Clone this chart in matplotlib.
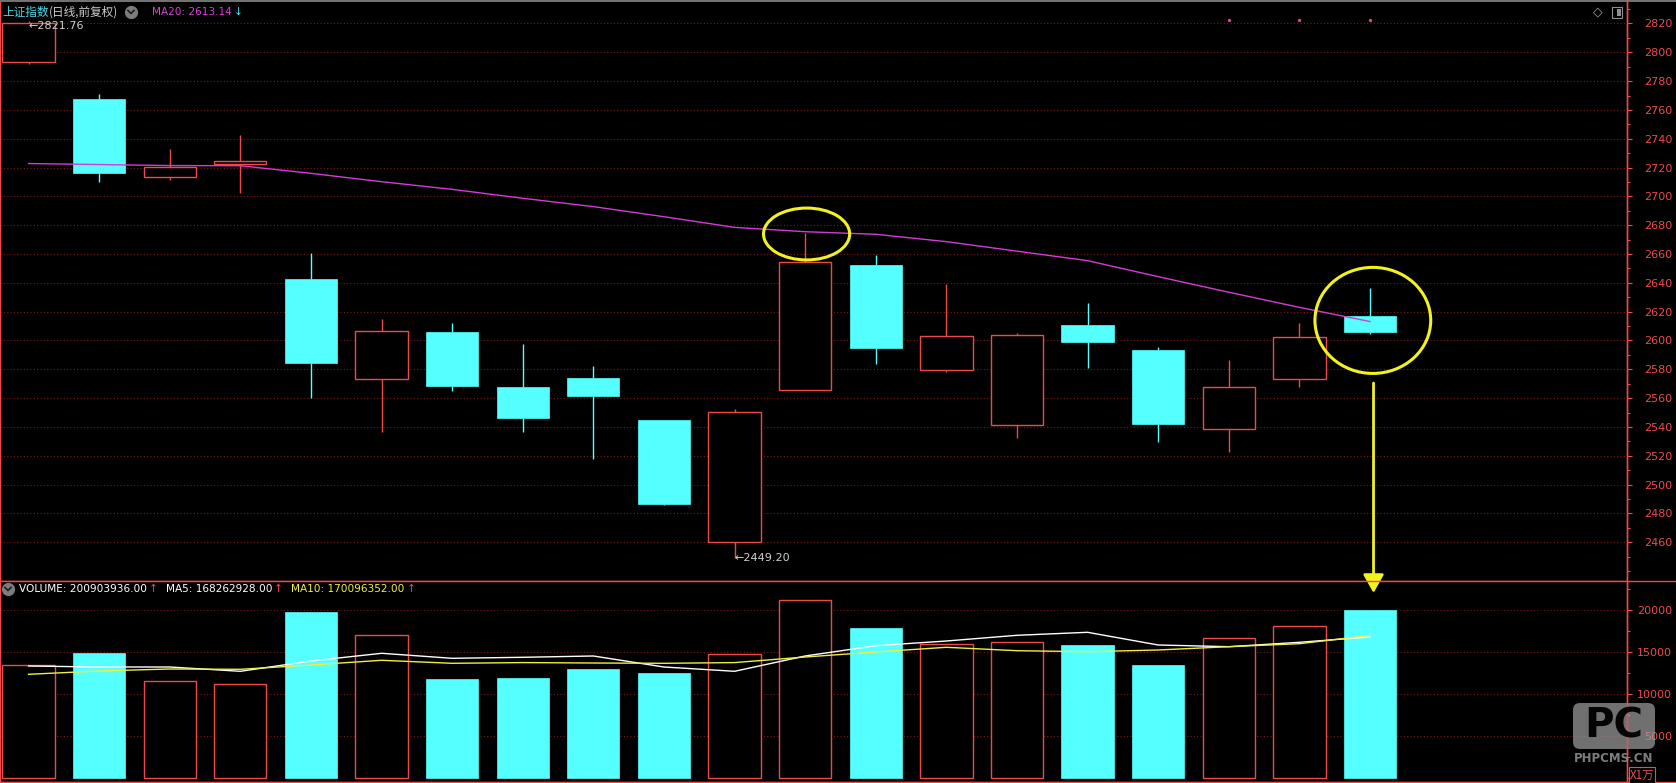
import numpy as np
import matplotlib
matplotlib.use('Agg')
import matplotlib.pyplot as plt
import matplotlib.transforms as mtransforms
from matplotlib.patches import Ellipse, Rectangle, FancyBboxPatch, ConnectionPatch
from matplotlib.ticker import MultipleLocator, FixedLocator

plt.rcParams['font.family'] = ['DejaVu Sans']
CJK = ['Noto Sans CJK SC', 'DejaVu Sans']

# 上证指数 日线（前复权），最近20个交易日
opens = [2793.1, 2767.6, 2713.3, 2722.7, 2642.7, 2573.5, 2605.9, 2567.7, 2573.9, 2544.8,
         2460.0, 2565.4, 2652.4, 2579.7, 2541.2, 2610.8, 2593.4, 2538.4, 2573.1, 2617.0]
closes = [2820.1, 2716.4, 2720.2, 2724.8, 2584.2, 2606.4, 2568.4, 2546.4, 2561.5, 2486.8,
          2550.2, 2654.3, 2595.0, 2602.9, 2603.6, 2599.2, 2542.3, 2567.7, 2602.2, 2606.1]
highs = [2821.76, 2770.9, 2732.9, 2742.6, 2660.5, 2614.7, 2612.1, 2597.6, 2582.3, 2545.0,
         2552.3, 2674.4, 2659.3, 2639.4, 2605.0, 2626.0, 2595.3, 2586.5, 2612.4, 2636.2]
lows = [2791.7, 2710.2, 2711.2, 2702.6, 2560.3, 2536.7, 2565.2, 2536.7, 2517.8, 2485.9,
        2449.20, 2565.4, 2583.5, 2577.9, 2532.1, 2581.1, 2529.8, 2522.4, 2567.5, 2604.3]
ma20 = [2722.8, 2722.1, 2721.4, 2721.3, 2716.0, 2710.2, 2704.9, 2698.7, 2692.9, 2685.9,
        2678.5, 2675.5, 2673.7, 2668.6, 2662.0, 2655.4, 2644.3, 2633.5, 2623.0, 2613.14]

# 成交量（单位：万）
volume = [13452, 14917, 11631, 11250, 19798, 17024, 11762, 11893, 13012, 12536,
          14762, 21190, 17893, 15952, 16190, 15869, 13488, 16667, 18095, 20090.39]
vol_ma5 = [13369, 13250, 13250, 12738, 13964, 14881, 14286, 14405, 14560, 13250,
           12738, 14560, 15786, 16345, 17024, 17381, 15869, 15667, 16190, 16826.29]
vol_ma10 = [12381, 12774, 13012, 12976, 13488, 14048, 13690, 13774, 13726, 13690,
            13774, 14440, 15036, 15595, 15190, 15071, 15274, 15667, 16024, 17009.64]

# 标题栏数值
volume_now = '200903936.00'
ma5_now = '168262928.00'
ma10_now = '170096352.00'
info_days = [17, 18, 19]   # 顶部小标记

price_ticks = list(range(2460, 2821, 20))
vol_ticks = [5000, 10000, 15000, 20000]

RED = '#ee4a4a'
CYAN = '#55ffff'
GRID = '#7a1818'
YELLOW = '#f2f21e'

W, H = 1676, 783
fig = plt.figure(figsize=(W / 100, H / 100), dpi=100, facecolor='black')

axp = fig.add_axes([0, 1 - 581 / H, 1627 / W, 579 / H])
axv = fig.add_axes([0, 1 - 782 / H, 1627 / W, 200 / H])

o = np.array(opens); c = np.array(closes)
hi = np.array(highs); lo = np.array(lows)
x = np.arange(len(o))
up = c >= o
body_lo = np.minimum(o, c)
body_hi = np.maximum(o, c)
bw = 0.74

for ax in (axp, axv):
    ax.set_facecolor('black')
    ax.set_xlim(-0.404, 22.64)
    ax.set_xticks([])
    ax.yaxis.tick_right()
    for s in ('left', 'right', 'bottom'):
        ax.spines[s].set_color(RED)
        ax.spines[s].set_linewidth(1.0)
    ax.spines['top'].set_visible(False)
    ax.set_axisbelow(True)
    ax.grid(axis='y', which='major', color=GRID, linestyle=(0, (1, 2)), linewidth=0.8)
    ax.tick_params(axis='y', which='major', colors=RED, labelcolor=RED, length=3.6,
                   width=0.8, labelsize=8, pad=28.8)
    ax.tick_params(axis='y', which='minor', colors=RED, length=2.2, width=0.8)

# K线
wick_col = [RED if u else CYAN for u in up]
axp.vlines(x, body_hi, hi, colors=wick_col, linewidth=1.0)
axp.vlines(x, lo, body_lo, colors=wick_col, linewidth=1.0)
axp.bar(x[up], (body_hi - body_lo)[up], bottom=body_lo[up], width=bw,
        facecolor='black', edgecolor=RED, linewidth=1.0)
axp.bar(x[~up], (body_hi - body_lo)[~up], bottom=body_lo[~up], width=bw,
        facecolor=CYAN, edgecolor=CYAN, linewidth=0.5)
axp.plot(x, ma20, color='#d23cd2', linewidth=1.0)

axp.set_ylim(2433.1, 2834.9)
axp.yaxis.set_major_locator(FixedLocator(price_ticks))
axp.yaxis.set_minor_locator(MultipleLocator(10))
for lab in axp.get_yticklabels():
    lab.set_ha('right')

# 最高/最低价标注
axp.text(x[0], hi[0], '\u2190' + f'{hi[0]:.2f}', color='#d0d0d0', fontsize=8,
         ha='left', va='top')
imin = int(np.argmin(lo))
axp.text(x[imin], lo[imin], '\u2190' + f'{lo[imin]:.2f}', color='#d0d0d0', fontsize=8,
         ha='left', va='center')

# 顶部小标记
tr = mtransforms.blended_transform_factory(axp.transData, axp.transAxes)
axp.scatter(info_days, [0.969] * len(info_days), s=2, color='#e0409a', transform=tr,
            clip_on=False)

# 黄色圈注
axp.add_patch(Ellipse((11.02, hi[11] - 0.5), 1.22, 36, fill=False, edgecolor=YELLOW,
                      linewidth=2.2, clip_on=False, zorder=5))
axp.add_patch(Ellipse((19.04, ma20[-1] + 0.8), 1.64, 73.6, fill=False, edgecolor=YELLOW,
                      linewidth=2.2, clip_on=False, zorder=5))

# 成交量
axv.bar(x[up], np.array(volume)[up], width=bw, facecolor='black', edgecolor=RED,
        linewidth=1.0)
axv.bar(x[~up], np.array(volume)[~up], width=bw, facecolor=CYAN, edgecolor=CYAN,
        linewidth=0.5)
axv.plot(x, vol_ma5, color='white', linewidth=1.0)
axv.plot(x, vol_ma10, color='#eeee44', linewidth=1.0)
axv.set_ylim(-441, 23369)
axv.yaxis.set_major_locator(FixedLocator(vol_ticks))
axv.yaxis.set_minor_locator(MultipleLocator(2500))
for lab in axv.get_yticklabels():
    lab.set_ha('right')

# 黄色箭头
arrow = ConnectionPatch(xyA=(19.05, 2570.5), coordsA='data', axesA=axp,
                        xyB=(19.05, 22060), coordsB='data', axesB=axv,
                        arrowstyle='-|>,head_width=0.45,head_length=0.8',
                        mutation_scale=14, color=YELLOW, linewidth=2.0, zorder=6)
fig.add_artist(arrow)

# 覆盖层：标题、边框、水印
ov = fig.add_axes([0, 0, 1, 1], facecolor='none')
ov.set_xlim(0, W)
ov.set_ylim(H, 0)
ov.axis('off')
ov.set_zorder(10)
renderer = fig.canvas.get_renderer()


def text_row(x0, y, items, size=7.6):
    # 依次排列一行文字，items: (文字, 颜色, 字体, 后间距)
    xc = x0
    for txt, col, fam, gap in items:
        t = ov.text(xc, y, txt, color=col, fontsize=size, family=fam,
                    va='center', ha='left')
        xc += t.get_window_extent(renderer).width + gap


ov.plot([0, W], [0.5, 0.5], color='#8a8a8a', linewidth=1.2)
ov.plot([0, W], [581, 581], color=RED, linewidth=1.0)
ov.plot([0, W], [782, 782], color=RED, linewidth=1.0)
ov.plot([1627, 1627], [0, H], color=RED, linewidth=1.0)

text_row(2, 12, [('上证指数', '#4fd6e6', CJK, 0),
                 ('(日线,前复权)', '#cccccc', CJK, 0)], size=8.4)
ov.plot([131], [12], marker='o', markersize=8.5, color='#7c7c7c')
ov.plot([128, 131, 134], [10.5, 13.5, 10.5], color='#1c1c1c', linewidth=1.2)
text_row(152, 12, [(f'MA20: {ma20[-1]:.2f}', '#dc3cdc', ['DejaVu Sans'], 2),
                   ('\u2193', '#40e0f0', ['DejaVu Sans'], 0)])

ov.text(1598, 12, '\u25c7', color='#a8a8a8', fontsize=9, va='center', ha='center')
ov.add_patch(Rectangle((1612, 6.5), 10, 11, fill=False, edgecolor='#909090', linewidth=0.8))
ov.add_patch(Rectangle((1617, 8.5), 3.5, 7, facecolor='#909090', edgecolor='none'))

ov.plot([8], [589], marker='o', markersize=8.5, color='#7c7c7c')
ov.plot([5, 8, 11], [587.5, 590.5, 587.5], color='#1c1c1c', linewidth=1.2)
dv = ['DejaVu Sans']
text_row(19, 589, [('VOLUME: ' + volume_now, 'white', dv, 2),
                   ('\u2191', RED, dv, 8),
                   ('MA5: ' + ma5_now, 'white', dv, 2),
                   ('\u2191', RED, dv, 8),
                   ('MA10: ' + ma10_now, '#f0f040', dv, 2),
                   ('\u2191', RED, dv, 0)])

ov.text(1642, 775, 'X1万', color=RED, fontsize=8.3, family=CJK, va='center', ha='center',
        bbox=dict(boxstyle='square,pad=0.1', facecolor='black', edgecolor=RED, linewidth=0.8))

ov.add_patch(FancyBboxPatch((1573, 703), 82, 46, boxstyle='round,pad=0,rounding_size=7',
                            facecolor='#a0a0a0', edgecolor='none', alpha=0.7))
ov.text(1614, 727, 'PC', color='#050505', fontsize=29, fontweight='bold', va='center',
        ha='center')
ov.text(1614, 758, 'PHPCMS.CN', color='#8c8c8c', fontsize=8.5, fontweight='bold',
        va='center', ha='center', alpha=0.9)

fig.savefig('out.png', dpi=100, facecolor='black')
